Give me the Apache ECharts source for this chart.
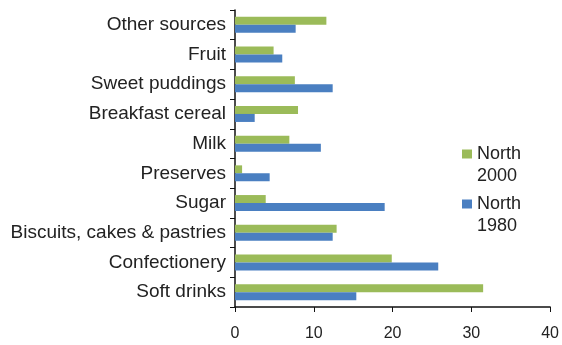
<!DOCTYPE html>
<html>
<head>
    <meta charset="utf-8">
    <title>Sugar sources</title>
    <script src="https://cdn.jsdelivr.net/npm/echarts@6/dist/echarts.min.js"></script>
</head>
<body style="margin:0">
<div id="main" style="width: 562px;height: 345px;"></div>
<script>
    // categories bottom to top
    var categories = ['Soft drinks', 'Confectionery', 'Biscuits, cakes & pastries', 'Sugar', 'Preserves',
        'Milk', 'Breakfast cereal', 'Sweet puddings', 'Fruit', 'Other sources'];
    var north2000 = [31.5, 19.9, 12.9, 3.9, 0.9, 6.9, 8.0, 7.6, 4.9, 11.6];
    var north1980 = [15.4, 25.8, 12.4, 19.0, 4.4, 10.9, 2.5, 12.4, 6.0, 7.7];
    var xTicks = [0, 10, 20, 30, 40];

    var myChart = echarts.init(document.getElementById('main'));
    var font = 'Liberation Sans, Arial, sans-serif';
    var option = {
        animation: false,
        textStyle: { fontFamily: font },
        grid: { left: 235, right: 11, top: 10, bottom: 38, containLabel: false },
        legend: {
            orient: 'vertical',
            left: 462,
            top: 121,
            padding: 0,
            icon: 'rect',
            itemWidth: 10,
            itemHeight: 9,
            itemGap: -16,
            // blank first line so the marker sits beside "North"
            formatter: function (name) { return '\n' + name; },
            textStyle: { color: '#222', fontSize: 18, lineHeight: 22, fontFamily: font },
            data: ['North\n2000', 'North\n1980']
        },
        xAxis: {
            type: 'value',
            min: xTicks[0],
            max: xTicks[xTicks.length - 1],
            interval: 10,
            splitLine: { show: false },
            axisLine: { show: true, lineStyle: { color: '#111', width: 1.5 } },
            axisTick: { show: true, length: 5, lineStyle: { color: '#111' } },
            axisLabel: { color: '#222', fontSize: 16, margin: 19, fontFamily: font }
        },
        yAxis: {
            type: 'category',
            data: categories,
            axisLine: { lineStyle: { color: '#111', width: 1.5 } },
            axisTick: { show: true, length: 5, lineStyle: { color: '#111' } },
            axisLabel: { color: '#222', fontSize: 19, margin: 9, interval: 0, fontFamily: font }
        },
        series: [
            {
                name: 'North\n2000',
                type: 'bar',
                barWidth: 8,
                barGap: '0%',
                itemStyle: { color: '#9bbb59' },
                data: north2000
            },
            {
                name: 'North\n1980',
                type: 'bar',
                barWidth: 8,
                barGap: '0%',
                itemStyle: { color: '#4a7fc1' },
                data: north1980
            }
        ]
    };
    myChart.setOption(option);
</script>
</body>
</html>
